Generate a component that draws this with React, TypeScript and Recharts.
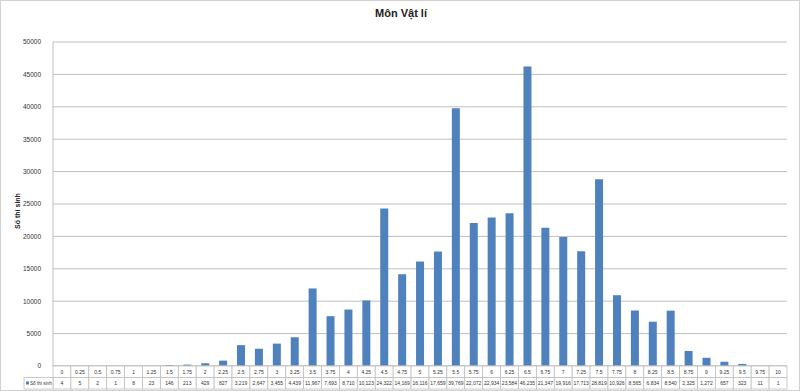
import { BarChart, Bar, XAxis, YAxis, CartesianGrid } from "recharts";

const scores = [
  "0", "0.25", "0.5", "0.75", "1", "1.25", "1.5", "1.75", "2", "2.25", "2.5",
  "2.75", "3", "3.25", "3.5", "3.75", "4", "4.25", "4.5", "4.75", "5", "5.25",
  "5.5", "5.75", "6", "6.25", "6.5", "6.75", "7", "7.25", "7.5", "7.75", "8",
  "8.25", "8.5", "8.75", "9", "9.25", "9.5", "9.75", "10",
];

const students = [
  4, 5, 2, 1, 8, 23, 146, 213, 429, 827, 3219, 2647, 3455, 4439, 11967, 7693,
  8710, 10123, 24322, 14169, 16116, 17659, 39769, 22072, 22934, 23584, 46235,
  21347, 19916, 17713, 28819, 10926, 8565, 6834, 8540, 2325, 1272, 657, 323, 11, 1,
];

const yTicks = [0, 5000, 10000, 15000, 20000, 25000, 30000, 35000, 40000, 45000, 50000];

const data = scores.map((s, i) => ({ score: s, value: students[i] }));

const W = 800;
const H = 391;
const M = { top: 41, right: 12, bottom: 0, left: 0 };
const Y_W = 52;
const plotW = W - 2 - M.left - M.right - Y_W;
const cellW = plotW / scores.length;
const ROW_H = 11.5;
const FONT = "'Liberation Sans', Arial, sans-serif";
const BLUE = "#4F81BD";
const LINE = "#bfbfbf";

// bảng số liệu dưới trục x
const TableTick = (props: any) => {
  const { x, y, payload, index } = props;
  const top = y - 8;
  const left = x - cellW / 2;
  const val = students[index];
  return (
    <g>
      <rect x={left} y={top} width={cellW} height={ROW_H} fill="#fff" stroke={LINE} strokeWidth={0.8} />
      <rect x={left} y={top + ROW_H} width={cellW} height={ROW_H} fill="#fff" stroke={LINE} strokeWidth={0.8} />
      <text x={x} y={top + 7.8} textAnchor="middle" fontSize={5} fill="#333" fontFamily={FONT}>
        {payload.value}
      </text>
      <text x={x} y={top + ROW_H + 7.8} textAnchor="middle" fontSize={5} fill="#333" fontFamily={FONT}>
        {val.toLocaleString("en-US")}
      </text>
      {index === 0 && (
        <g>
          <rect x={left - 29} y={top + ROW_H} width={29} height={ROW_H} fill="#fff" stroke={LINE} strokeWidth={0.8} />
          <rect x={left - 27} y={top + ROW_H + 4} width={3} height={3} fill={BLUE} />
          <text x={left - 23} y={top + ROW_H + 7.6} fontSize={4.6} fill="#333" fontFamily={FONT}>
            Số thí sinh
          </text>
        </g>
      )}
    </g>
  );
};

export default function App() {
  return (
    <div
      style={{
        position: "absolute",
        left: 0,
        top: 0,
        width: W,
        height: H,
        background: "#fff",
        boxSizing: "border-box",
        border: "1px solid #d0d0d0",
        fontFamily: FONT,
      }}
    >
      <div
        style={{
          position: "absolute",
          top: 6,
          left: 0,
          width: W,
          textAlign: "center",
          fontSize: 11,
          fontWeight: "bold",
          color: "#222",
        }}
      >
        Môn Vật lí
      </div>
      <div
        style={{
          position: "absolute",
          left: 17 - 40,
          top: 210 - 5,
          width: 80,
          textAlign: "center",
          fontSize: 7,
          lineHeight: "10px",
          fontWeight: "bold",
          color: "#222",
          transform: "rotate(-90deg)",
        }}
      >
        Số thí sinh
      </div>
      <BarChart
        width={W - 2}
        height={H - 2}
        data={data}
        margin={M}
        barSize={8}
        style={{ position: "absolute", left: 0, top: 0 }}
      >
        <CartesianGrid vertical={false} stroke={LINE} />
        <YAxis
          width={Y_W}
          domain={[0, 50000]}
          ticks={yTicks}
          interval={0}
          tickLine={false}
          axisLine={{ stroke: LINE }}
          tick={{ fontSize: 6.5, fill: "#333", fontFamily: FONT }}
          tickMargin={6}
        />
        <XAxis
          dataKey="score"
          height={24}
          interval={0}
          tickLine={false}
          axisLine={{ stroke: LINE }}
          tick={<TableTick />}
        />
        <Bar dataKey="value" fill={BLUE} isAnimationActive={false} />
      </BarChart>
    </div>
  );
}
